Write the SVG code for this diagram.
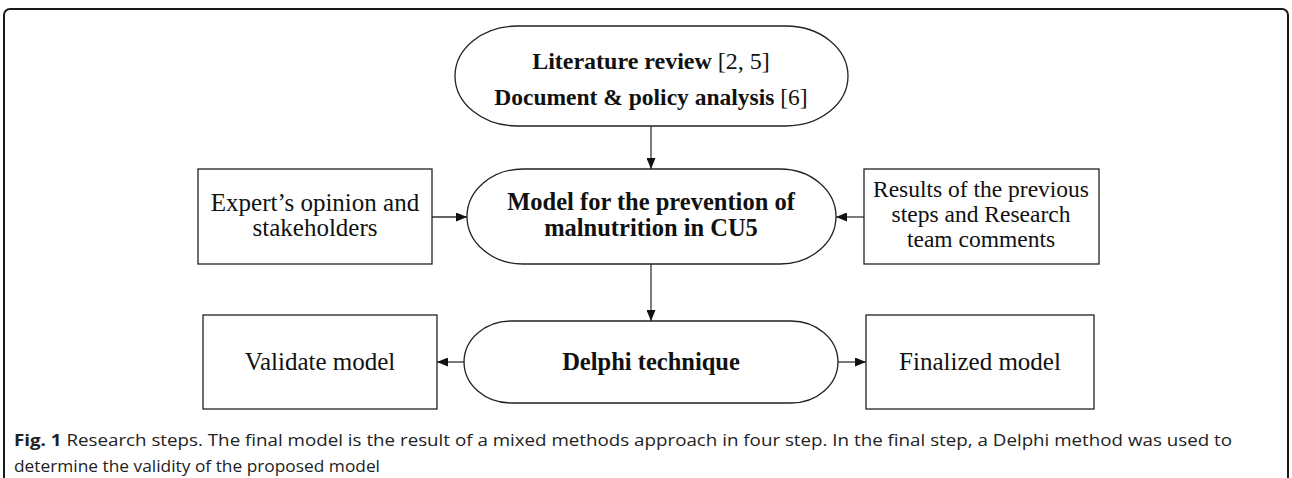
<svg xmlns="http://www.w3.org/2000/svg" width="1292" height="478" viewBox="0 0 1292 478">
<style>
.frame{fill:none;stroke:#1a1a1a;stroke-width:2}
.shape{fill:#fff;stroke:#222;stroke-width:1.3}
.conn{fill:none;stroke:#333;stroke-width:1.3}
.t{font-family:"Liberation Serif","Times New Roman",serif;font-size:25px;fill:#111;text-anchor:middle}
.s{font-size:23.5px}
.b{font-weight:bold;font-size:24.5px}
.n{font-weight:normal}
.cap{font-family:"Open Sans","Noto Sans",sans-serif;font-size:16.5px;fill:#222}
</style>
<defs>
<marker id="ah" viewBox="0 0 11 9" refX="11" refY="4.5" markerWidth="11" markerHeight="9" markerUnits="userSpaceOnUse" orient="auto">
<path d="M0,0 L11,4.5 L0,9 Z" fill="#111"/>
</marker>
</defs>
<rect class="frame" x="4" y="9" width="1284" height="490" rx="6" ry="6"/>
<g id="connectors">
<line class="conn" x1="651" y1="126" x2="651" y2="169" marker-end="url(#ah)"/>
<line class="conn" x1="432" y1="217" x2="467" y2="217" marker-end="url(#ah)"/>
<line class="conn" x1="864" y1="217" x2="836" y2="217" marker-end="url(#ah)"/>
<line class="conn" x1="651" y1="264" x2="651" y2="321" marker-end="url(#ah)"/>
<line class="conn" x1="464" y1="362" x2="437" y2="362" marker-end="url(#ah)"/>
<line class="conn" x1="838" y1="362" x2="866" y2="362" marker-end="url(#ah)"/>
</g>
<g id="literature">
<path class="shape" d="M517,26 H786 A62,50 0 0 1 786,126 H517 A62,50 0 0 1 517,26 Z"/>
<text class="t b" x="651" y="69" style="font-size:24px">Literature review <tspan class="n">[2, 5]</tspan></text>
<text class="t b" x="651" y="105" style="font-size:23.5px">Document &amp; policy analysis <tspan class="n">[6]</tspan></text>
</g>
<g id="model">
<path class="shape" d="M523,169 H780 A56,47.5 0 0 1 780,264 H523 A56,47.5 0 0 1 523,169 Z"/>
<text class="t b" x="651" y="210">Model for the prevention of</text>
<text class="t b" x="651" y="236">malnutrition in CU5</text>
</g>
<g id="expert">
<rect class="shape" x="198" y="169" width="234" height="95"/>
<text class="t" x="315" y="211">Expert’s opinion and</text>
<text class="t" x="315" y="236">stakeholders</text>
</g>
<g id="results">
<rect class="shape" x="864" y="169" width="235" height="95"/>
<text class="t s" x="981" y="197">Results of the previous</text>
<text class="t s" x="981" y="222">steps and Research</text>
<text class="t s" x="981" y="247">team comments</text>
</g>
<g id="delphi">
<path class="shape" d="M511,321 H791 A47,41 0 0 1 791,403 H511 A47,41 0 0 1 511,321 Z"/>
<text class="t b" x="651" y="370">Delphi technique</text>
</g>
<g id="validate">
<rect class="shape" x="203" y="315" width="234" height="94"/>
<text class="t" x="320" y="370">Validate model</text>
</g>
<g id="finalized">
<rect class="shape" x="866" y="315" width="228" height="94"/>
<text class="t" x="980" y="370">Finalized model</text>
</g>
<g id="caption">
<text class="cap" x="14" y="446" textLength="1218" lengthAdjust="spacingAndGlyphs"><tspan font-weight="bold">Fig. 1</tspan> Research steps. The final model is the result of a mixed methods approach in four step. In the final step, a Delphi method was used to</text>
<text class="cap" x="14" y="472" textLength="366" lengthAdjust="spacingAndGlyphs">determine the validity of the proposed model</text>
</g>
</svg>
